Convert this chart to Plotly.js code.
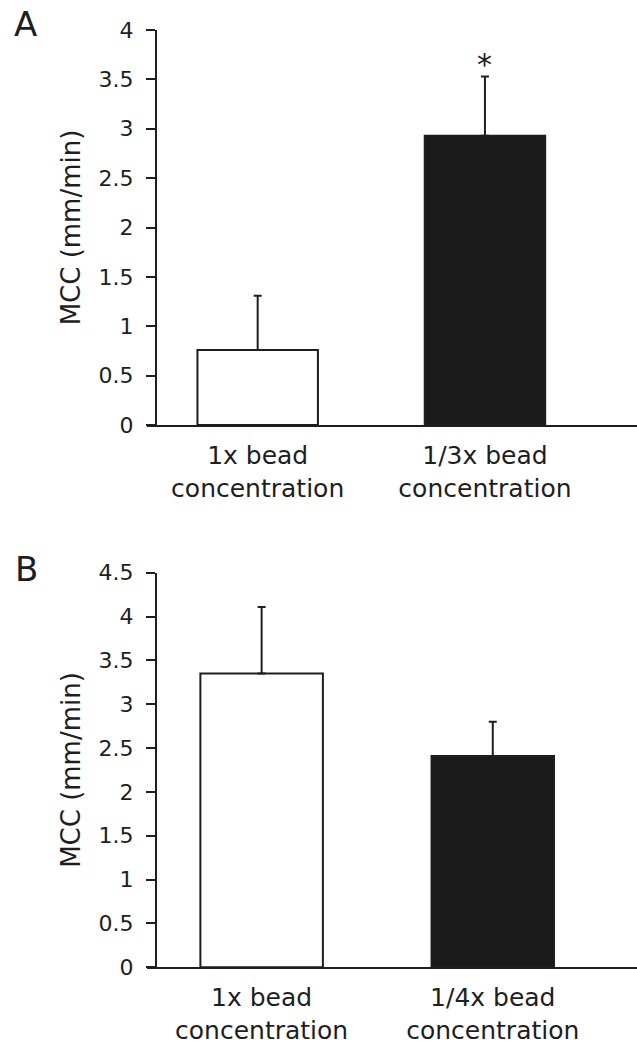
<!DOCTYPE html>
<html>
<head>
<meta charset="utf-8">
<script src="https://cdn.plot.ly/plotly-3.0.1.min.js"></script>
<style>html,body{margin:0;padding:0;background:#fff;}#chart{width:637px;height:1051px;}</style>
</head>
<body>
<div id="chart"></div>
<script>
// Panel A
const categoriesA = ['1x bead<br>concentration', '1/3x bead<br>concentration'];
const meanA = [0.76, 2.93];
const errA = [0.55, 0.60];
const yTicksA = [0, 0.5, 1, 1.5, 2, 2.5, 3, 3.5, 4];
const yTickLabelsA = ['0', '0.5', '1', '1.5', '2', '2.5', '3', '3.5', '4'];
// Panel B
const categoriesB = ['1x bead<br>concentration', '1/4x bead<br>concentration'];
const meanB = [3.35, 2.41];
const errB = [0.76, 0.39];
const yTicksB = [0, 0.5, 1, 1.5, 2, 2.5, 3, 3.5, 4, 4.5];
const yTickLabelsB = ['0', '0.5', '1', '1.5', '2', '2.5', '3', '3.5', '4', '4.5'];
const barColors = ['#ffffff', '#1a1a1a'];
const significance = ['', '*'];

const ink = '#1e1e1e';
const fontFam = 'DejaVu Sans, Liberation Sans, Arial, sans-serif';
const W = 637, H = 1051;

function barTrace(cats, vals, errs, xa, ya) {
  return {
    type: 'bar', x: cats, y: vals, xaxis: xa, yaxis: ya,
    width: 0.53,
    marker: { color: barColors, line: { color: ink, width: 2 } },
    error_y: { type: 'data', symmetric: false, array: errs, arrayminus: errs.map(() => 0),
               color: ink, thickness: 2, width: 4 },
    hoverinfo: 'skip', showlegend: false
  };
}

const data = [
  barTrace(categoriesA, meanA, errA, 'x', 'y'),
  barTrace(categoriesB, meanB, errB, 'x2', 'y2')
];

function xAxis(anchor, range) {
  return {
    domain: [147 / W, 1], anchor: anchor, type: 'category', range: range,
    showline: true, linecolor: ink, linewidth: 2, ticks: '', showgrid: false,
    zeroline: false, tickfont: { family: fontFam, size: 25, color: ink },
    ticklabelstandoff: 7, fixedrange: true
  };
}
function yAxis(domain, range, tv, tt) {
  return {
    domain: domain, anchor: 'free', position: 156 / W, range: range,
    tickvals: tv, ticktext: tt, showline: true, linecolor: ink, linewidth: 2,
    ticks: 'outside', ticklen: 9, tickwidth: 2, tickcolor: ink, showgrid: false,
    zeroline: false, tickfont: { family: fontFam, size: 22, color: ink }, ticklabelstandoff: 8,
    title: { text: 'MCC (mm/min)', font: { family: fontFam, size: 26, color: ink }, standoff: 9 },
    fixedrange: true
  };
}

const annotations = [
  { xref: 'paper', yref: 'paper', x: 12 / W, y: 1 - 2 / H, xanchor: 'left', yanchor: 'top',
    text: 'A', showarrow: false, font: { family: fontFam, size: 34, color: ink } },
  { xref: 'paper', yref: 'paper', x: 13 / W, y: 1 - 547 / H, xanchor: 'left', yanchor: 'top',
    text: 'B', showarrow: false, font: { family: fontFam, size: 34, color: ink } }
];
significance.forEach((s, i) => {
  if (s) annotations.push({ xref: 'x', yref: 'y', x: categoriesA[i], y: meanA[i] + errA[i],
    yanchor: 'bottom', yshift: -8, text: s, showarrow: false,
    font: { family: fontFam, size: 30, color: ink } });
});

const layout = {
  width: W, height: H, margin: { l: 0, r: 0, t: 0, b: 0 },
  paper_bgcolor: '#fff', plot_bgcolor: '#fff',
  xaxis: xAxis('y', [-0.487, 1.669]),
  yaxis: yAxis([(H - 425) / H, (H - 30) / H], [0, 4], yTicksA, yTickLabelsA),
  xaxis2: xAxis('y2', [-0.496, 1.624]),
  yaxis2: yAxis([(H - 967.3) / H, (H - 572.7) / H], [0, 4.5], yTicksB, yTickLabelsB),
  annotations: annotations,
  font: { family: fontFam, color: ink }
};

Plotly.newPlot('chart', data, layout, { staticPlot: true, displayModeBar: false });
</script>
</body>
</html>
